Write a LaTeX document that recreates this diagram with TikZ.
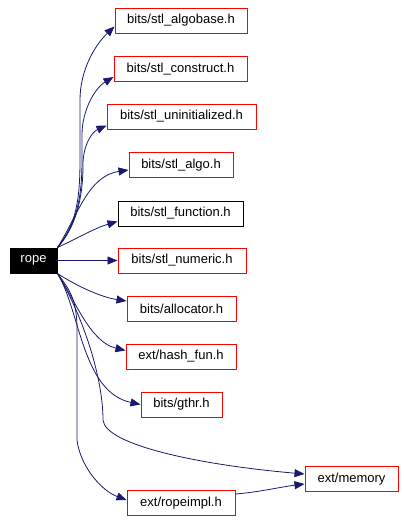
\documentclass[tikz,border=0pt]{standalone}
\usepackage{fontspec}
\setmainfont{Liberation Sans}
\usetikzlibrary{arrows.meta}

\definecolor{edgeblue}{RGB}{25,25,112}

\begin{document}
\begin{tikzpicture}[
    x=1pt, y=-1pt,
    hdr/.style={rectangle, draw=red, fill=white, line width=1pt, minimum height=25pt, inner sep=0pt, font=\fontsize{13}{15}\selectfont},
    doc/.style={hdr, draw=black},
    root/.style={hdr, draw=black, fill=black, text=white},
    dep/.style={draw=edgeblue, line width=0.8pt, -{Triangle[length=10pt,width=8pt]}}
]
\useasboundingbox (0,0) rectangle (404,522);

\node[root, minimum width=47pt] (rope) at (33.5,260.5) {rope};

\node[hdr, minimum width=132pt] (algobase) at (181,20.5) {bits/stl\_algobase.h};
\node[hdr, minimum width=133pt] (construct) at (180.5,69) {bits/stl\_construct.h};
\node[hdr, minimum width=149pt] (uninit) at (181.5,116.5) {bits/stl\_uninitialized.h};
\node[hdr, minimum width=104pt] (algo) at (181,165) {bits/stl\_algo.h};
\node[doc, minimum width=125pt] (function) at (180.5,213.5) {bits/stl\_function.h};
\node[hdr, minimum width=128pt] (numeric) at (182,260.5) {bits/stl\_numeric.h};
\node[hdr, minimum width=109pt] (allocator) at (181.5,309) {bits/allocator.h};
\node[hdr, minimum width=110pt] (hashfun) at (181,356.5) {ext/hash\_fun.h};
\node[hdr, minimum width=81pt] (gthr) at (181.5,404.5) {bits/gthr.h};
\node[hdr, minimum width=93pt] (memory) at (351.5,479) {ext/memory};
\node[hdr, minimum width=108pt] (ropeimpl) at (181,503) {ext/ropeimpl.h};

% edges going up
\draw[dep] (rope.north east) .. controls (76,225) and (80,200) .. (80,160) -- (80,100)
    .. controls (80,70) and (95,45) .. ([yshift=-6pt]algobase.west);
\draw[dep] (rope.north east) .. controls (76,225) and (82,200) .. (82,160) -- (82,135)
    .. controls (82,110) and (95,88) .. ([yshift=-8pt]construct.west);
\draw[dep] (rope.north east) .. controls (75,228) and (83,200) .. (83,165)
    .. controls (83,145) and (92,132) .. ([yshift=-9pt]uninit.west);
\draw[dep] (rope.north east) .. controls (78,215) and (88,176) .. ([yshift=-5pt]algo.west);
\draw[dep] (rope.north east) .. controls (80,237) and (95,228) .. ([yshift=-8pt]function.west);

% straight edge
\draw[dep] (rope.east) -- (numeric.west);

% edges going down
\draw[dep] (rope.south east) .. controls (75,285) and (100,297) .. ([yshift=8pt]allocator.west);
\draw[dep] (rope.south east) .. controls (75,300) and (90,342) .. ([yshift=6pt]hashfun.west);
\draw[dep] (rope.south east) .. controls (80,310) and (82,392) .. (gthr.west);
\draw[dep] (rope.south east) .. controls (85,320) and (103,380) .. (103,420)
    .. controls (105,445) and (200,465) .. ([yshift=5pt]memory.west);
\draw[dep] (rope.south east) .. controls (70,290) and (77,300) .. (77,330) -- (77,440)
    .. controls (80,465) and (100,490) .. ([yshift=3pt]ropeimpl.west);
\draw[dep] ([yshift=9pt]ropeimpl.east) .. controls (260,492) and (280,487) .. ([yshift=-5pt]memory.west);

\end{tikzpicture}
\end{document}
